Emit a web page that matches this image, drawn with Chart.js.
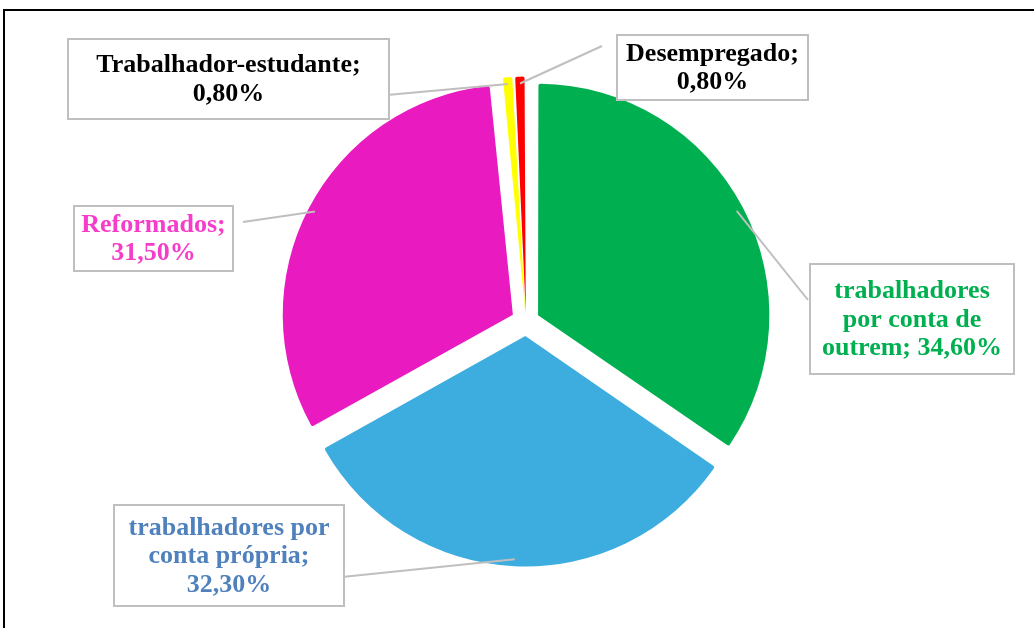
<!DOCTYPE html>
<html>
<head>
<meta charset="utf-8">
<script src="https://cdn.jsdelivr.net/npm/chart.js@4"></script>
<style>
  body { margin: 0; background: #fff; }
  #wrap { width: 1034px; height: 628px; position: relative; }
</style>
</head>
<body>
<div id="wrap"><canvas id="myChart"></canvas></div>
<script>
const categories = [
  "trabalhadores por conta de outrem",
  "trabalhadores por conta própria",
  "Reformados",
  "Trabalhador-estudante",
  "Desempregado"
];
const values = [34.6, 32.3, 31.5, 0.8, 0.8];
const sliceColors = ["#00B050", "#3DADE0", "#EA1AC1", "#FFFF00", "#FF0000"];
const textColors = ["#00B050", "#4F81BD", "#F53DC9", "#000000", "#000000"];
// how each label is wrapped in its box; {v} is the value
const labelLines = [
  ["trabalhadores", "por conta de", "outrem; {v}"],
  ["trabalhadores por", "conta própria;", "{v}"],
  ["Reformados;", "{v}"],
  ["Trabalhador-estudante;", "{v}"],
  ["Desempregado;", "{v}"]
];
// label boxes [x, y, w, h] and where the leader line meets them
const labelBoxes = [
  [810, 264, 204, 110],
  [114, 505, 230, 101],
  [74, 206, 159, 65],
  [68, 39, 321, 80],
  [617, 35, 191, 65]
];
const leaderEnds = [[808, 300], [342, 577], [243, 222], [387, 95], [602, 46]];

// chart.js moves a slice by offset/4 * (1 + 1 - sin(circumference)),
// so pick the offset per slice that gives roughly 16px of explode
const explode = 16;
const total = values.reduce((a, b) => a + b, 0);
const offsets = values.map(v => {
  const c = v / total * 2 * Math.PI;
  const fix = 1 - Math.sin(Math.min(Math.PI, c));
  return explode * 4 / (1 + fix);
});

function fmt(v) {
  return v.toFixed(2).replace('.', ',') + '%';
}

const framePlugin = {
  id: 'frame',
  beforeDraw(chart) {
    const ctx = chart.ctx;
    ctx.save();
    ctx.fillStyle = '#fff';
    ctx.fillRect(0, 0, chart.width, chart.height);
    ctx.strokeStyle = '#000';
    ctx.lineWidth = 2;
    ctx.strokeRect(4, 10, chart.width + 20, chart.height + 20);
    ctx.restore();
  }
};

const labelPlugin = {
  id: 'boxLabels',
  afterDatasetsDraw(chart) {
    const ctx = chart.ctx;
    const arcs = chart.getDatasetMeta(0).data;
    ctx.save();
    arcs.forEach((arc, i) => {
      const p = arc.getProps(['x', 'y', 'startAngle', 'endAngle', 'outerRadius', 'circumference'], true);
      const mid = (p.startAngle + p.endAngle) / 2;
      const fix = 1 - Math.sin(Math.min(Math.PI, p.circumference));
      const shift = arc.options.offset / 4 * (1 + fix);
      const d = shift + p.outerRadius * 0.97;
      const sx = p.x + Math.cos(mid) * d;
      const sy = p.y + Math.sin(mid) * d;
      ctx.strokeStyle = '#BFBFBF';
      ctx.lineWidth = 2;
      ctx.beginPath();
      ctx.moveTo(sx, sy);
      ctx.lineTo(leaderEnds[i][0], leaderEnds[i][1]);
      ctx.stroke();

      const [bx, by, bw, bh] = labelBoxes[i];
      ctx.fillStyle = '#fff';
      ctx.fillRect(bx, by, bw, bh);
      ctx.strokeRect(bx, by, bw, bh);

      const lines = labelLines[i].map(s => s.replace('{v}', fmt(values[i])));
      const lh = 28.5;
      ctx.font = 'bold 26px "Liberation Serif", serif';
      ctx.fillStyle = textColors[i];
      ctx.textAlign = 'center';
      ctx.textBaseline = 'middle';
      const cy = by + bh / 2 - (lines.length - 1) * lh / 2;
      lines.forEach((t, k) => ctx.fillText(t, bx + bw / 2, cy + k * lh + 1));
    });
    ctx.restore();
  }
};

const data = {
  labels: categories,
  datasets: [{
    data: values,
    backgroundColor: sliceColors,
    borderWidth: 0,
    borderRadius: 2,
    offset: offsets
  }]
};

// radius = (chart area height - biggest offset) / 2, centred near (526, 322)
const maxOff = Math.max(...offsets);
const areaH = 2 * 229 + maxOff;
const padTop = Math.round(322 - areaH / 2);

const config = {
  type: 'pie',
  data: data,
  options: {
    responsive: true,
    maintainAspectRatio: false,
    animation: false,
    layout: {
      padding: { top: padTop, bottom: Math.round(628 - padTop - areaH), left: 18, right: 0 }
    },
    plugins: {
      legend: { display: false },
      tooltip: { enabled: false }
    }
  },
  plugins: [framePlugin, labelPlugin]
};

const myChart = new Chart(document.getElementById('myChart'), config);
</script>
</body>
</html>
